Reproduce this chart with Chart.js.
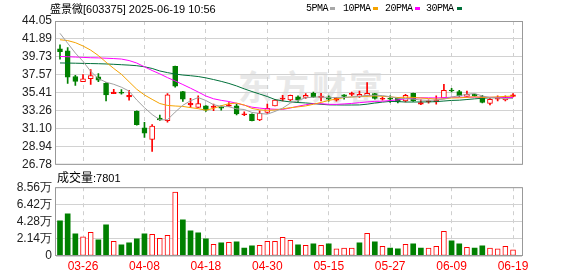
<!DOCTYPE html>
<html><head><meta charset="utf-8">
<script src="https://cdn.jsdelivr.net/npm/chart.js@4.4.1/dist/chart.umd.min.js"></script>
<style>
html,body{margin:0;padding:0;background:#fff;width:578px;height:276px;overflow:hidden;position:relative;}
.t{position:absolute;white-space:nowrap;line-height:12px;color:#000;}
.cjk{font-family:'Noto Sans CJK SC',sans-serif;}
#title{left:50px;top:2px;font-size:11px;font-family:'Liberation Sans',Arial,sans-serif;}
.lg{position:absolute;top:3px;font:10px 'Liberation Mono',monospace;letter-spacing:-0.5px;line-height:11px;color:#000;}
.sw{position:absolute;top:7px;width:5px;height:3px;}
#vlab{left:57px;top:171px;font-size:12px;}
#vlab .n{font:11px 'Liberation Sans',Arial,sans-serif;}
#wm{position:absolute;left:238px;top:66px;font:bold 34px 'Noto Sans CJK SC',sans-serif;color:#e8e8e8;letter-spacing:3px;line-height:40px;}
canvas{position:absolute;left:0;}
#pc{top:0;}
#vc{top:176px;}
</style></head>
<body>
<div id="wm">东方财富</div>
<canvas id="pc" width="578" height="176"></canvas>
<canvas id="vc" width="578" height="100"></canvas>
<div id="title" class="t"><span class="cjk">盛景微</span>[603375] 2025-06-19 10:56</div>
<div class="lg" style="left:306px">5PMA</div><div class="sw" style="left:330px;background:#a8a8a8"></div>
<div class="lg" style="left:343px">10PMA</div><div class="sw" style="left:373px;background:#f5a300"></div>
<div class="lg" style="left:385px">20PMA</div><div class="sw" style="left:415px;background:#ff00ff"></div>
<div class="lg" style="left:426px">30PMA</div><div class="sw" style="left:457px;background:#00703a"></div>
<div id="vlab" class="t"><span class="cjk">成交量</span><span class="n">:7801</span></div>
<script>
const dates = ['03-21','03-24','03-25','03-26','03-27','03-28','03-31','04-01','04-02','04-03',
'04-07','04-08','04-09','04-10','04-11','04-14','04-15','04-16','04-17','04-18',
'04-21','04-22','04-23','04-24','04-25','04-28','04-29','04-30','05-06','05-07',
'05-08','05-09','05-12','05-13','05-14','05-15','05-16','05-19','05-20','05-21',
'05-22','05-23','05-26','05-27','05-28','05-29','05-30','06-03','06-04','06-05',
'06-06','06-09','06-10','06-11','06-12','06-13','06-16','06-17','06-18','06-19'];
const opens = [40.70,40.47,37.38,36.75,37.11,37.35,36.55,35.33,35.45,34.93,
33.20,31.21,29.83,32.40,32.08,38.61,35.57,33.98,33.67,33.86,
33.67,33.74,33.82,33.86,32.79,32.88,32.16,33.08,33.86,34.65,
34.57,34.93,34.86,35.37,34.88,34.93,34.54,35.17,35.24,34.98,
35.05,35.33,34.65,34.77,34.77,34.45,35.37,34.06,34.33,34.33,
34.77,35.72,35.57,34.98,35.25,34.98,34.15,34.65,34.57,34.98];
const highs = [41.18,40.86,37.54,37.62,38.21,37.74,36.64,35.84,35.81,35.72,
33.25,31.89,31.61,32.76,35.33,38.65,35.60,34.77,35.05,33.90,
34.06,33.86,34.26,34.06,33.15,32.90,33.27,34.06,34.65,35.13,
35.15,35.05,35.33,35.52,35.37,35.05,34.86,35.20,35.52,35.64,
36.64,35.35,34.93,35.05,34.86,35.25,35.40,34.57,34.57,35.05,
36.43,35.96,35.72,35.64,35.28,35.13,34.74,35.05,35.05,35.33];
const lows = [39.48,36.55,36.32,36.75,36.43,36.75,34.45,35.33,35.25,34.54,
31.55,30.06,28.40,32.10,31.89,36.11,34.38,33.67,33.67,33.20,
33.27,33.35,33.80,32.76,32.67,32.05,32.08,32.96,33.84,34.45,
34.45,34.38,34.74,34.86,34.45,34.42,34.42,34.65,35.05,34.86,
35.05,34.65,34.54,34.26,34.20,34.33,34.40,34.00,34.17,34.06,
34.77,35.52,34.98,34.98,34.98,34.22,33.98,34.45,34.45,34.93];
const closes = [40.38,37.30,36.79,37.11,37.50,36.94,35.17,35.52,35.37,35.13,
31.61,30.59,31.42,32.16,35.17,36.23,34.65,34.15,34.12,33.35,
33.75,33.59,33.98,32.88,32.86,32.08,32.96,33.55,34.54,34.77,
35.13,34.57,35.13,34.90,34.94,34.65,34.77,34.98,35.30,35.25,
35.37,34.74,34.77,34.65,34.33,35.13,34.45,34.26,34.40,34.57,
35.72,35.64,35.05,35.25,35.05,34.26,34.65,34.77,34.86,35.17];
const vols = [4.38,5.25,2.75,2.38,2.96,2.00,3.88,1.83,1.38,1.63,
2.13,2.75,2.71,2.21,2.58,7.96,4.50,3.13,2.88,2.13,
1.46,1.63,1.71,1.75,1.00,1.25,1.33,1.83,1.83,2.33,
1.96,1.38,1.33,1.50,1.33,1.50,0.88,1.00,1.00,1.63,
2.83,1.75,1.21,1.00,0.88,1.46,1.50,1.00,1.00,1.21,
3.08,1.88,1.50,1.08,1.00,1.25,1.00,0.88,1.21,0.78];
const ma5 = [42.57,41.38,40.20,39.20,38.00,37.13,36.70,36.45,36.10,35.63,
34.56,33.64,32.82,32.18,32.19,33.11,33.93,34.47,34.86,34.50,
34.00,33.79,33.75,33.50,33.42,33.07,32.95,32.86,33.19,33.58,
34.19,34.51,34.83,34.90,34.94,34.83,34.87,34.86,34.93,34.99,
35.13,35.13,35.09,34.96,34.77,34.72,34.67,34.56,34.51,34.56,
34.68,34.92,35.08,35.25,35.34,35.05,34.85,34.80,34.72,34.74];
const ma10 = [41.80,41.70,41.45,41.05,40.55,39.90,39.10,38.35,37.65,36.75,
35.85,35.17,34.64,34.14,33.91,33.84,33.79,33.65,33.52,33.34,
33.56,33.87,34.12,34.19,33.96,33.55,33.38,33.32,33.36,33.50,
33.64,33.74,33.85,34.05,34.27,34.51,34.69,34.85,34.93,34.97,
35.02,35.05,35.01,34.94,34.86,34.90,34.88,34.80,34.74,34.67,
34.70,34.80,34.82,34.88,34.95,34.87,34.89,34.94,34.99,35.04];
const ma20 = [39.79,39.76,39.72,39.68,39.64,39.62,39.58,39.54,39.48,39.30,
39.00,38.55,38.10,37.70,37.25,36.85,36.42,35.98,35.52,35.04,
34.71,34.52,34.38,34.17,33.94,33.70,33.59,33.49,33.45,33.43,
33.60,33.81,33.99,34.12,34.12,34.04,34.04,34.09,34.15,34.24,
34.33,34.40,34.42,34.50,34.57,34.71,34.79,34.83,34.82,34.81,
34.84,34.90,34.89,34.90,34.91,34.89,34.89,34.87,34.87,34.86];
const ma30 = [39.01,39.00,38.98,38.96,38.94,38.92,38.89,38.85,38.80,38.75,
38.68,38.55,38.35,38.05,37.85,37.68,37.56,37.48,37.38,37.22,
37.02,36.80,36.55,36.25,35.90,35.58,35.28,34.98,34.62,34.45,
34.33,34.26,34.21,34.13,34.05,33.98,33.97,33.96,33.96,33.97,
34.06,34.20,34.31,34.39,34.37,34.32,34.32,34.33,34.33,34.37,
34.44,34.51,34.54,34.62,34.70,34.77,34.83,34.86,34.88,34.89];
const priceTicks = [44.05,41.89,39.73,37.57,35.41,33.26,31.10,28.94,26.78];
const volTicks = [0,2.14,4.28,6.42,8.56];
const xLabels = ['03-26','04-08','04-18','04-30','05-15','05-27','06-09','06-19'];

const RED = '#ff0000', GREEN = '#008000';
const xTickIdx = xLabels.map(l => dates.indexOf(l));
const XMIN = -0.52, XMAX = 60.17;
Chart.defaults.font.family = "'Liberation Sans', Arial, sans-serif";
Chart.defaults.font.size = 12;
Chart.defaults.color = '#222';

const frame = {
  id: 'frame',
  afterDraw(chart) {
    const a = chart.chartArea, c = chart.ctx;
    c.save();
    c.strokeStyle = '#999';
    c.lineWidth = 1;
    c.strokeRect(a.left - 0.5, a.top + 0.5, a.right - a.left + 1, a.bottom - a.top - 1);
    c.restore();
  }
};

function xScale(showLabels) {
  return {
    type: 'linear', min: XMIN, max: XMAX, offset: false,
    afterBuildTicks: s => { s.ticks = xTickIdx.map(v => ({ value: v })); },
    afterFit: s => { s.height = showLabels ? 20 : 0; },
    grid: { color: '#cfcfcf', drawTicks: false, offset: false },
    border: { display: false, dash: [4, 4] },
    ticks: { display: showLabels, color: RED, padding: 3, maxRotation: 0, autoSkip: false,
             callback: v => dates[v] }
  };
}

function yScale(min, max, tickVals, fmt) {
  return { type: 'linear', min: min, max: max,
    afterBuildTicks: s => { s.ticks = tickVals.map(v => ({ value: v })); },
    afterFit: s => { s.width = 56; },
    grid: { color: '#d2d2d2', drawTicks: false },
    border: { display: false },
    ticks: { padding: 4, color: '#222', autoSkip: false, callback: fmt } };
}

const isUp = i => closes[i] >= opens[i];
const volUp = i => i > 0 && closes[i] >= closes[i - 1];
const line = (d, col) => ({ type: 'line', data: d.map((v, i) => ({ x: i, y: v })),
  borderColor: col, borderWidth: 1, pointRadius: 0, tension: 0, order: 0, fill: false });

new Chart(document.getElementById('pc'), {
  type: 'bar',
  data: { datasets: [
    line(ma5, '#a0a0a0'), line(ma10, '#f5a300'), line(ma20, '#ff00ff'), line(ma30, '#00703a'),
    { type: 'bar', order: 1, grouped: false, barThickness: 5, minBarLength: 1,
      data: opens.map((o, i) => ({ x: i, y: [o, closes[i]] })),
      backgroundColor: c => { const i = c.dataIndex; if (!isUp(i)) return GREEN;
        return (closes[i] - opens[i]) < 0.25 ? RED : '#ffffff'; },
      borderColor: c => isUp(c.dataIndex) ? RED : GREEN,
      borderWidth: 1, borderSkipped: false },
    { type: 'bar', order: 2, grouped: false, barThickness: 1,
      data: lows.map((l, i) => ({ x: i, y: [l, highs[i]] })),
      backgroundColor: c => isUp(c.dataIndex) ? RED : GREEN, borderWidth: 0 }
  ]},
  options: {
    animation: false, responsive: false, events: [],
    layout: { padding: { top: 21, right: 56, bottom: 10, left: 0 } },
    plugins: { legend: { display: false }, tooltip: { enabled: false } },
    scales: {
      x: xScale(false),
      y: yScale(26.78, 44.05, priceTicks, v => v.toFixed(2))
    }
  },
  plugins: [frame]
});

new Chart(document.getElementById('vc'), {
  type: 'bar',
  data: { datasets: [{
    data: vols.map((v, i) => ({ x: i, y: v })), barThickness: 5,
    backgroundColor: c => volUp(c.dataIndex) ? '#ffffff' : GREEN,
    borderColor: c => volUp(c.dataIndex) ? RED : GREEN,
    borderWidth: c => volUp(c.dataIndex) ? 1 : 0,
    borderSkipped: false
  }]},
  options: {
    animation: false, responsive: false, events: [],
    layout: { padding: { top: 10, right: 56, bottom: 0, left: 0 } },
    plugins: { legend: { display: false }, tooltip: { enabled: false } },
    scales: {
      x: xScale(true),
      y: yScale(0, 8.56, volTicks, v => v === 0 ? '0' : v.toFixed(2) + '万')
    }
  },
  plugins: [frame]
});
</script>
</body></html>
